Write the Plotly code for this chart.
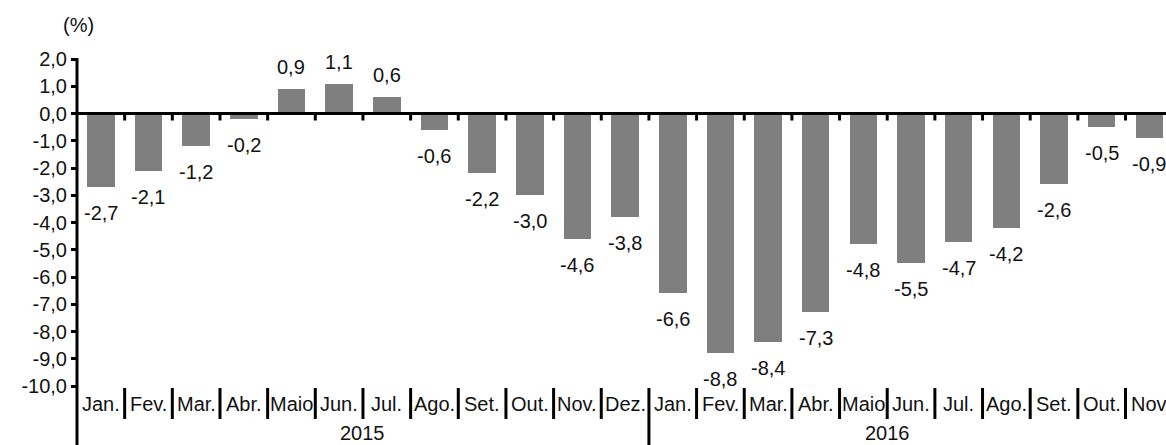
import plotly.graph_objects as go

months = ["Jan.", "Fev.", "Mar.", "Abr.", "Maio", "Jun.", "Jul.", "Ago.", "Set.", "Out.", "Nov.", "Dez.",
          "Jan.", "Fev.", "Mar.", "Abr.", "Maio", "Jun.", "Jul.", "Ago.", "Set.", "Out.", "Nov"]
years = ["2015", "2016"]
year_counts = [12, 11]
values = [-2.7, -2.1, -1.2, -0.2, 0.9, 1.1, 0.6, -0.6, -2.2, -3.0, -4.6, -3.8,
          -6.6, -8.8, -8.4, -7.3, -4.8, -5.5, -4.7, -4.2, -2.6, -0.5, -0.9]
y_ticks = [2, 1, 0, -1, -2, -3, -4, -5, -6, -7, -8, -9, -10]


def fmt(v):
    return f"{v:.1f}".replace(".", ",")


W, H = 1166, 445
ML, MR, MT, MB = 77, 0, 59, 59
PH = H - MT - MB
PW = W - ML - MR
step = 47.66
FONT = "Liberation Sans, Arial, sans-serif"
FS = 20
TXT = "#111111"
# year label placement (category-index units) as in the reference
year_label_x = [5.5, 16.5]

x = list(range(len(values)))

fig = go.Figure()
fig.add_trace(go.Bar(
    x=x, y=values, width=0.577,
    marker=dict(color="#7f7f7f", line=dict(width=0)),
    hoverinfo="skip",
))

annotations = []
for i, v in enumerate(values):
    annotations.append(dict(
        x=i, y=v, xref="x", yref="y", text=fmt(v), showarrow=False,
        yanchor="middle", xanchor="center",
        yshift=22 if v > 0 else -26,
        font=dict(family=FONT, size=FS, color=TXT),
    ))
for i, m in enumerate(months):
    annotations.append(dict(
        x=i, y=-18 / PH, xref="x", yref="paper", text=m, showarrow=False,
        yanchor="middle", xanchor="center",
        font=dict(family=FONT, size=FS, color=TXT),
    ))
for yr, cx in zip(years, year_label_x):
    annotations.append(dict(
        x=cx, y=-47 / PH, xref="x", yref="paper", text=yr, showarrow=False,
        yanchor="middle", xanchor="center",
        font=dict(family=FONT, size=FS, color=TXT),
    ))
annotations.append(dict(
    x=0.001, y=1 + 34 / PH, xref="paper", yref="paper", text="(%)", showarrow=False,
    yanchor="middle", xanchor="center",
    font=dict(family=FONT, size=FS, color=TXT),
))

shapes = []
# y axis line extended to bottom
shapes.append(dict(type="line", xref="paper", yref="paper", x0=0, x1=0,
                   y0=1.003, y1=-MB / PH, line=dict(color="black", width=3), layer="above"))
# zero line
shapes.append(dict(type="line", xref="paper", yref="y", x0=0, x1=1, y0=0, y1=0,
                   line=dict(color="black", width=3), layer="above"))
zero_frac = (0 - min(y_ticks)) / (max(y_ticks) - min(y_ticks))
year_bounds = set()
s = 0
for cnt in year_counts[:-1]:
    s += cnt
    year_bounds.add(s - 0.5)
for i in range(len(values)):
    b = i + 0.5
    # small ticks under zero line
    shapes.append(dict(type="line", xref="x", yref="paper", x0=b, x1=b,
                       y0=zero_frac, y1=zero_frac - 7 / PH,
                       line=dict(color="black", width=3), layer="above"))
    # category separators
    y_end = -MB / PH if b in year_bounds else -33 / PH
    shapes.append(dict(type="line", xref="x", yref="paper", x0=b, x1=b,
                       y0=-2 / PH, y1=y_end,
                       line=dict(color="black", width=3), layer="above"))

fig.update_layout(
    width=W, height=H,
    margin=dict(l=ML, r=MR, t=MT, b=MB),
    paper_bgcolor="white", plot_bgcolor="white",
    showlegend=False,
    bargap=0,
    annotations=annotations,
    shapes=shapes,
    font=dict(family=FONT, size=FS, color=TXT),
    xaxis=dict(range=[-0.5, -0.5 + PW / step], showticklabels=False, ticks="",
               showgrid=False, zeroline=False, showline=False, fixedrange=True,
               automargin=False),
    yaxis=dict(range=[min(y_ticks), max(y_ticks)], tickvals=y_ticks,
               ticktext=[fmt(v) for v in y_ticks],
               ticks="outside", ticklen=5, tickwidth=3, tickcolor="black",
               showgrid=False, zeroline=False, showline=False, automargin=False,
               fixedrange=True,
               tickfont=dict(family=FONT, size=FS, color=TXT)),
)

fig.write_html(
    "out.html",
    config={"displayModeBar": False, "staticPlot": True},
    post_script="document.body.style.margin='0';document.body.style.overflow='hidden';",
)
